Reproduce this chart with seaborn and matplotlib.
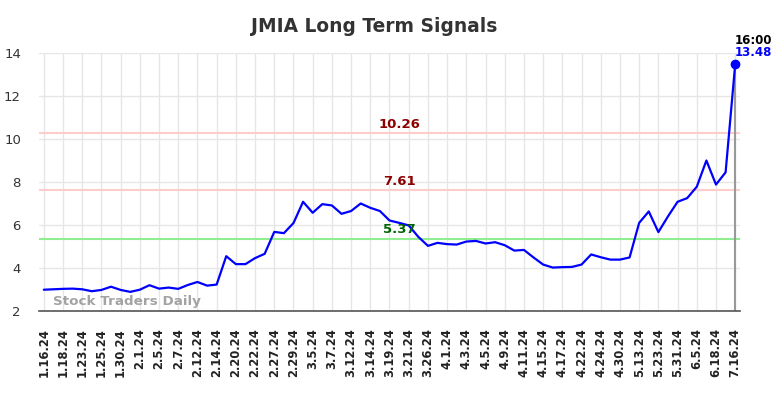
import matplotlib
matplotlib.use("Agg")
import matplotlib.pyplot as plt
import seaborn as sns
import numpy as np
import pandas as pd

tick_labels = ["1.16.24", "1.18.24", "1.23.24", "1.25.24", "1.30.24", "2.1.24", "2.5.24",
               "2.7.24", "2.12.24", "2.14.24", "2.20.24", "2.22.24", "2.27.24", "2.29.24",
               "3.5.24", "3.7.24", "3.12.24", "3.14.24", "3.19.24", "3.21.24", "3.26.24",
               "4.1.24", "4.3.24", "4.5.24", "4.9.24", "4.11.24", "4.15.24", "4.17.24",
               "4.22.24", "4.24.24", "4.30.24", "5.13.24", "5.23.24", "5.31.24", "6.5.24",
               "6.18.24", "7.16.24"]

prices = [2.99, 3.01, 3.03, 3.04, 3.01, 2.92, 2.98, 3.13, 2.98, 2.89,
          2.99, 3.20, 3.04, 3.09, 3.03, 3.21, 3.35, 3.18, 3.23, 4.55,
          4.18, 4.18, 4.46, 4.66, 5.68, 5.62, 6.09, 7.08, 6.57, 6.97,
          6.91, 6.52, 6.65, 7.00, 6.80, 6.65, 6.21, 6.10, 5.98, 5.45,
          5.03, 5.17, 5.11, 5.09, 5.23, 5.26, 5.14, 5.20, 5.06, 4.81,
          4.84, 4.49, 4.16, 4.02, 4.04, 4.05, 4.16, 4.63, 4.50, 4.39,
          4.39, 4.49, 6.10, 6.63, 5.67, 6.40, 7.08, 7.25, 7.78, 9.00,
          7.88, 8.45, 13.48]

resistance_high = 10.26
resistance_low = 7.61
support = 5.37
last_label = "16:00"

sns.set_style("white")
plt.rcParams['font.family'] = ['DejaVu Sans']

fig = plt.figure(figsize=(7.84, 3.98), dpi=100)
ax = fig.add_axes([39/784, 1 - 311/398, (740 - 39)/784, (311 - 53)/398])

df = pd.DataFrame({"idx": np.arange(len(prices)), "price": prices})

ax.axhline(resistance_high, color="#ffcccc", lw=1.5, zorder=1)
ax.axhline(resistance_low, color="#ffcccc", lw=1.5, zorder=1)
ax.axhline(support, color="#90ee90", lw=1.5, zorder=1)

n = len(prices)
ax.plot([n - 1, n - 1], [2, prices[-1]], color="#999999", lw=1.5, zorder=2)

sns.lineplot(data=df, x="idx", y="price", ax=ax, color="#0000ff", lw=1.6, zorder=3)
ax.plot([n - 1], [prices[-1]], "o", color="#0000ff", ms=6, zorder=4)

ax.set_xlim(-0.5, n - 0.5)
ax.set_ylim(2, 14)
ax.set_xticks(np.arange(0, n, 2))
ax.set_xticklabels(tick_labels, rotation=90, fontsize=8.3, fontweight="bold", color="#222222")
ax.set_yticks([2, 4, 6, 8, 10, 12, 14])
ax.set_yticklabels(["2", "4", "6", "8", "10", "12", "14"], fontsize=9.5, color="#333333")
ax.tick_params(axis="x", length=0, pad=12.5)
ax.tick_params(axis="y", length=0, pad=13)
ax.set_xlabel("")
ax.set_ylabel("")
ax.grid(True, color="#e6e6e6", lw=1)
ax.set_axisbelow(True)
for s in ["top", "right", "left"]:
    ax.spines[s].set_visible(False)
ax.spines["bottom"].set_color("#555555")
ax.spines["bottom"].set_linewidth(1.2)

mid = 37
ax.text(mid, resistance_high + 0.1, f"{resistance_high:.2f}", color="#8b0000",
        fontsize=9.5, fontweight="bold", ha="center", va="bottom")
ax.text(mid, resistance_low + 0.1, f"{resistance_low:.2f}", color="#8b0000",
        fontsize=9.5, fontweight="bold", ha="center", va="bottom")
ax.text(mid, support + 0.1, f"{support:.2f}", color="#006400",
        fontsize=9.5, fontweight="bold", ha="center", va="bottom")

ax.text(n - 1.05, prices[-1] + 0.56, f"{prices[-1]:.2f}", color="#0000ff",
        fontsize=8.5, fontweight="bold", ha="left", va="center")
ax.text(n - 1.05, prices[-1] + 1.12, last_label, color="#000000",
        fontsize=8.5, fontweight="bold", ha="left", va="center")

ax.text(1, 2.12, "Stock Traders Daily", color="#999999", fontsize=9.7,
        fontweight="bold", ha="left", va="bottom", alpha=0.9)

fig.suptitle("JMIA Long Term Signals", x=374/784, y=1 - 26.5/398, va="center",
             fontsize=13.4, fontweight="bold", color="#333333")

fig.savefig("out.png", dpi=100)
